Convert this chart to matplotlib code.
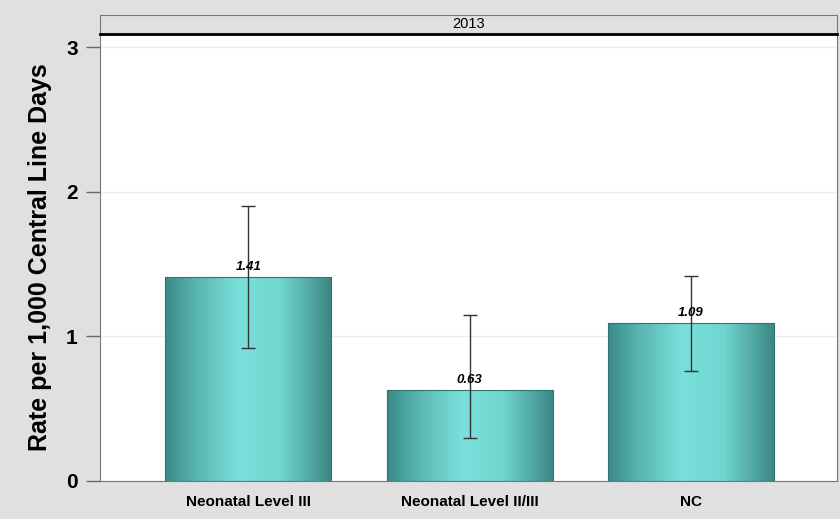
import numpy as np
import matplotlib.pyplot as plt
from matplotlib.colors import LinearSegmentedColormap
from matplotlib.patches import Rectangle

plt.rcParams['font.family'] = ['Liberation Sans', 'DejaVu Sans']

categories = ['Neonatal Level III', 'Neonatal Level II/III', 'NC']
rates = [1.41, 0.63, 1.09]
lower = [0.92, 0.30, 0.76]
upper = [1.90, 1.15, 1.42]
year = '2013'

bg = '#e0e0e0'
fig = plt.figure(figsize=(8.4, 5.19), dpi=100, facecolor=bg)
ax = fig.add_axes([100 / 840, 38 / 519, 737 / 840, 447 / 519])
ax.set_facecolor('white')

x = np.arange(len(categories))
width = 0.75
ax.set_xlim(-0.67, 2.66)
ax.set_ylim(0, 3.09)

# teal shading: dark edges, light band slightly left of centre
shade = LinearSegmentedColormap.from_list(
    'teal', [(0.0, '#3b8a87'), (0.2, '#5bb8b4'), (0.45, '#7ae0db'),
             (0.7, '#6fd6d0'), (1.0, '#3d8784')])
grad = np.linspace(0, 1, 256).reshape(1, -1)

for xi, r in zip(x, rates):
    left = xi - width / 2
    im = ax.imshow(grad, cmap=shade, aspect='auto', interpolation='bilinear',
                   extent=(left, left + width, 0, r), zorder=2)
    rect = Rectangle((left, 0), width, r, facecolor='none',
                     edgecolor='#2f7472', linewidth=0.8, zorder=3)
    ax.add_patch(rect)
    im.set_clip_path(rect)

err = [np.array(rates) - np.array(lower), np.array(upper) - np.array(rates)]
ax.errorbar(x, rates, yerr=err, fmt='none', ecolor='#333333', elinewidth=1,
            capsize=5, capthick=1, zorder=4)

for xi, r in zip(x, rates):
    ax.text(xi, r + 0.03, f'{r:.2f}', ha='center', va='bottom', fontsize=9.5,
            fontweight='bold', fontstyle='italic', zorder=5)

ax.set_aspect('auto')
ax.set_yticks([0, 1, 2, 3])
ax.set_yticklabels(['0', '1', '2', '3'], fontsize=15, fontweight='bold')
ax.set_xticks(x)
ax.set_xticklabels(categories, fontsize=11, fontweight='bold')
ax.tick_params(axis='x', length=0, pad=10)
ax.tick_params(axis='y', length=10, width=1, color='#666666', pad=6)
ax.yaxis.grid(True, color='#ebebeb', linewidth=1)
ax.set_axisbelow(True)
for s in ax.spines.values():
    s.set_color('#777777')
ax.set_ylabel('Rate per 1,000 Central Line Days', fontsize=18,
              fontweight='bold', labelpad=10)

# panel header strip
strip = fig.add_axes([100 / 840, 485 / 519, 737 / 840, 19 / 519])
strip.set_facecolor(bg)
strip.set_xticks([])
strip.set_yticks([])
for s in strip.spines.values():
    s.set_color('#777777')
strip.spines['bottom'].set_color('black')
strip.spines['bottom'].set_linewidth(2)
strip.text(0.5, 0.5, year, ha='center', va='center', fontsize=10.5,
           transform=strip.transAxes)

fig.savefig('out.png', dpi=100, facecolor=bg)
